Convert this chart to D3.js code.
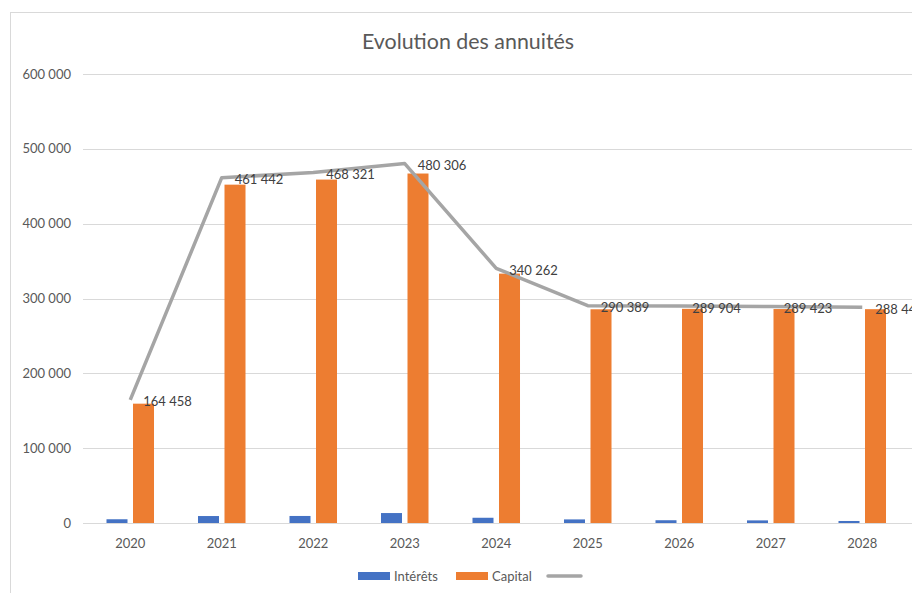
<!DOCTYPE html>
<html>
<head>
<meta charset="utf-8">
<script src="https://cdn.jsdelivr.net/npm/d3@7"></script>
<style>
    body { margin: 0; overflow: hidden; background: #fff; }
    text { font-family: Lato, "Open Sans", sans-serif; }
</style>
</head>
<body>
<div id="container"></div>
<script>
// donnees
var years = ['2020', '2021', '2022', '2023', '2024', '2025', '2026', '2027', '2028'];
var interets = [5000, 9300, 9400, 13300, 7000, 4800, 3700, 3500, 2700];
var capital = [159458, 452142, 458921, 467006, 333262, 285589, 286204, 285923, 285742];
var totals = [164458, 461442, 468321, 480306, 340262, 290389, 289904, 289423, 288442];
var yTicks = [0, 100000, 200000, 300000, 400000, 500000, 600000];
var seriesNames = ['Intérêts', 'Capital'];
var colorList = ['#4472c4', '#ed7d31'];
var lineColor = '#a5a5a5';

function fmt(v) {
    // espace comme separateur des milliers
    return d3.format(',')(v).replace(/,/g, ' ');
}

function drawChart() {
    var W = 912, H = 593;
    var svg = d3.select('#container').append('svg').attr('width', W).attr('height', H);

    // cadre du graphique
    svg.append('rect').attr('x', 10.5).attr('y', 12.5).attr('width', 1000).attr('height', 700)
        .attr('fill', 'none').attr('stroke', '#d9d9d9');

    svg.append('text').attr('x', 468).attr('y', 49).attr('text-anchor', 'middle')
        .attr('font-size', 21.4).attr('fill', '#595959').text('Evolution des annuités');

    var y = d3.scaleLinear().domain([0, 600000]).range([523, 74]);
    var x0 = d3.scaleBand().domain(years).range([84.5, 908]).paddingInner(0).paddingOuter(0);
    var x1 = d3.scaleBand().domain(seriesNames).range([0, x0.bandwidth()])
        .paddingInner(0.2075).paddingOuter(0.83);

    // grille
    var grid = svg.append('g');
    grid.selectAll('line').data(yTicks).enter().append('line')
        .attr('x1', 83).attr('x2', 912)
        .attr('y1', function (d) { return Math.round(y(d)) + 0.5; })
        .attr('y2', function (d) { return Math.round(y(d)) + 0.5; })
        .attr('stroke', '#d9d9d9').attr('stroke-width', 1);

    var yAxis = svg.append('g');
    yAxis.selectAll('text').data(yTicks).enter().append('text')
        .attr('x', 71).attr('y', function (d) { return y(d); }).attr('dy', '0.35em')
        .attr('text-anchor', 'end').attr('font-size', 13).attr('fill', '#595959')
        .text(function (d) { return fmt(d); });

    var xAxis = svg.append('g');
    xAxis.selectAll('text').data(years).enter().append('text')
        .attr('x', function (d) { return x0(d) + x0.bandwidth() / 2; }).attr('y', 543).attr('dy', '0.35em')
        .attr('text-anchor', 'middle').attr('font-size', 13).attr('fill', '#595959')
        .text(function (d) { return d; });

    // barres
    var series = [interets, capital];
    series.forEach(function (vals, si) {
        svg.append('g').selectAll('rect').data(vals).enter().append('rect')
            .attr('x', function (d, i) { return x0(years[i]) + x1(seriesNames[si]); })
            .attr('width', x1.bandwidth())
            .attr('y', function (d) { return y(d); })
            .attr('height', function (d) { return y(0) - y(d); })
            .attr('fill', colorList[si]);
    });

    // ligne des annuites
    var line = d3.line()
        .x(function (d, i) { return x0(years[i]) + x0.bandwidth() / 2; })
        .y(function (d) { return y(d); });
    svg.append('path').datum(totals).attr('d', line)
        .attr('fill', 'none').attr('stroke', lineColor).attr('stroke-width', 3.5)
        .attr('stroke-linejoin', 'round');

    svg.append('g').selectAll('text').data(totals).enter().append('text')
        .attr('x', function (d, i) { return x0(years[i]) + x0.bandwidth() / 2 + 13; })
        .attr('y', function (d) { return y(d) + 2; }).attr('dy', '0.35em')
        .attr('font-size', 13).attr('fill', '#404040')
        .text(function (d) { return fmt(d); });

    // legende
    var legend = svg.append('g');
    legend.append('rect').attr('x', 358).attr('y', 572).attr('width', 32).attr('height', 8).attr('fill', colorList[0]);
    legend.append('text').attr('x', 394).attr('y', 576).attr('dy', '0.35em').attr('font-size', 13)
        .attr('fill', '#595959').text(seriesNames[0]);
    legend.append('rect').attr('x', 456).attr('y', 572).attr('width', 32).attr('height', 8).attr('fill', colorList[1]);
    legend.append('text').attr('x', 492).attr('y', 576).attr('dy', '0.35em').attr('font-size', 13)
        .attr('fill', '#595959').text(seriesNames[1]);
    legend.append('line').attr('x1', 548).attr('x2', 581).attr('y1', 576).attr('y2', 576)
        .attr('stroke', lineColor).attr('stroke-width', 3.5).attr('stroke-linecap', 'round');
}

drawChart();
</script>
</body>
</html>
